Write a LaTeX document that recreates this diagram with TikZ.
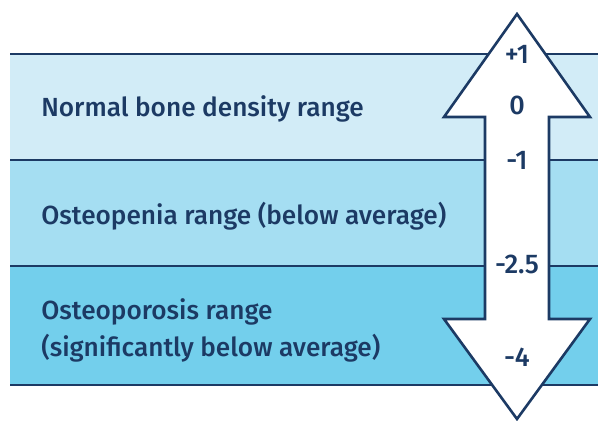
\documentclass[tikz,border=0pt]{standalone}
\usepackage{fontspec}
\setmainfont{Fira Sans}[UprightFont={* Medium}]
\definecolor{bdnavy}{RGB}{28,58,100}
\definecolor{bdnormal}{RGB}{210,236,247}
\definecolor{bdpenia}{RGB}{165,222,242}
\definecolor{bdporosis}{RGB}{115,207,236}
\tikzset{
  rangetext/.style={anchor=west,text=bdnavy,font=\fontsize{26.2}{37}\selectfont,align=left,inner sep=0pt},
  scoretext/.style={text=bdnavy,font=\fontsize{27}{30}\selectfont,inner sep=0pt}
}
\begin{document}
\begin{tikzpicture}[x=1pt,y=-1pt,line width=2.6pt]
  \useasboundingbox (0,0) rectangle (598,421);
  \fill[bdnormal] (10,54) rectangle (598,160);
  \fill[bdpenia] (10,160) rectangle (598,266);
  \fill[bdporosis] (10,266) rectangle (598,385);
  \foreach \y in {54,160,266,385}
    \draw[bdnavy] (10,\y) -- (598,\y);
  \coordinate (T) at (517,14);
  \coordinate (B) at (517,419);
  \draw[bdnavy,fill=white,line join=miter] (T) -- (590,117) -- (549,117) -- (549,319) -- (590,319)
    -- (B) -- (444,319) -- (485,319) -- (485,117) -- (444,117) -- cycle;
  \node[rangetext] (normal) at (40,109) {Normal bone density range};
  \node[rangetext] (penia) at (40,216) {Osteopenia range (below average)};
  \node[rangetext] (porosis) at (40,330) {Osteoporosis range\\(significantly below average)};
  \node[scoretext] (p1) at (517,54) {+1};
  \node[scoretext] (s0) at (517,105) {0};
  \node[scoretext] (m1) at (517,160) {-1};
  \node[scoretext] (m25) at (517,264) {-2.5};
  \node[scoretext] (m4) at (517,357) {-4};
\end{tikzpicture}
\end{document}
